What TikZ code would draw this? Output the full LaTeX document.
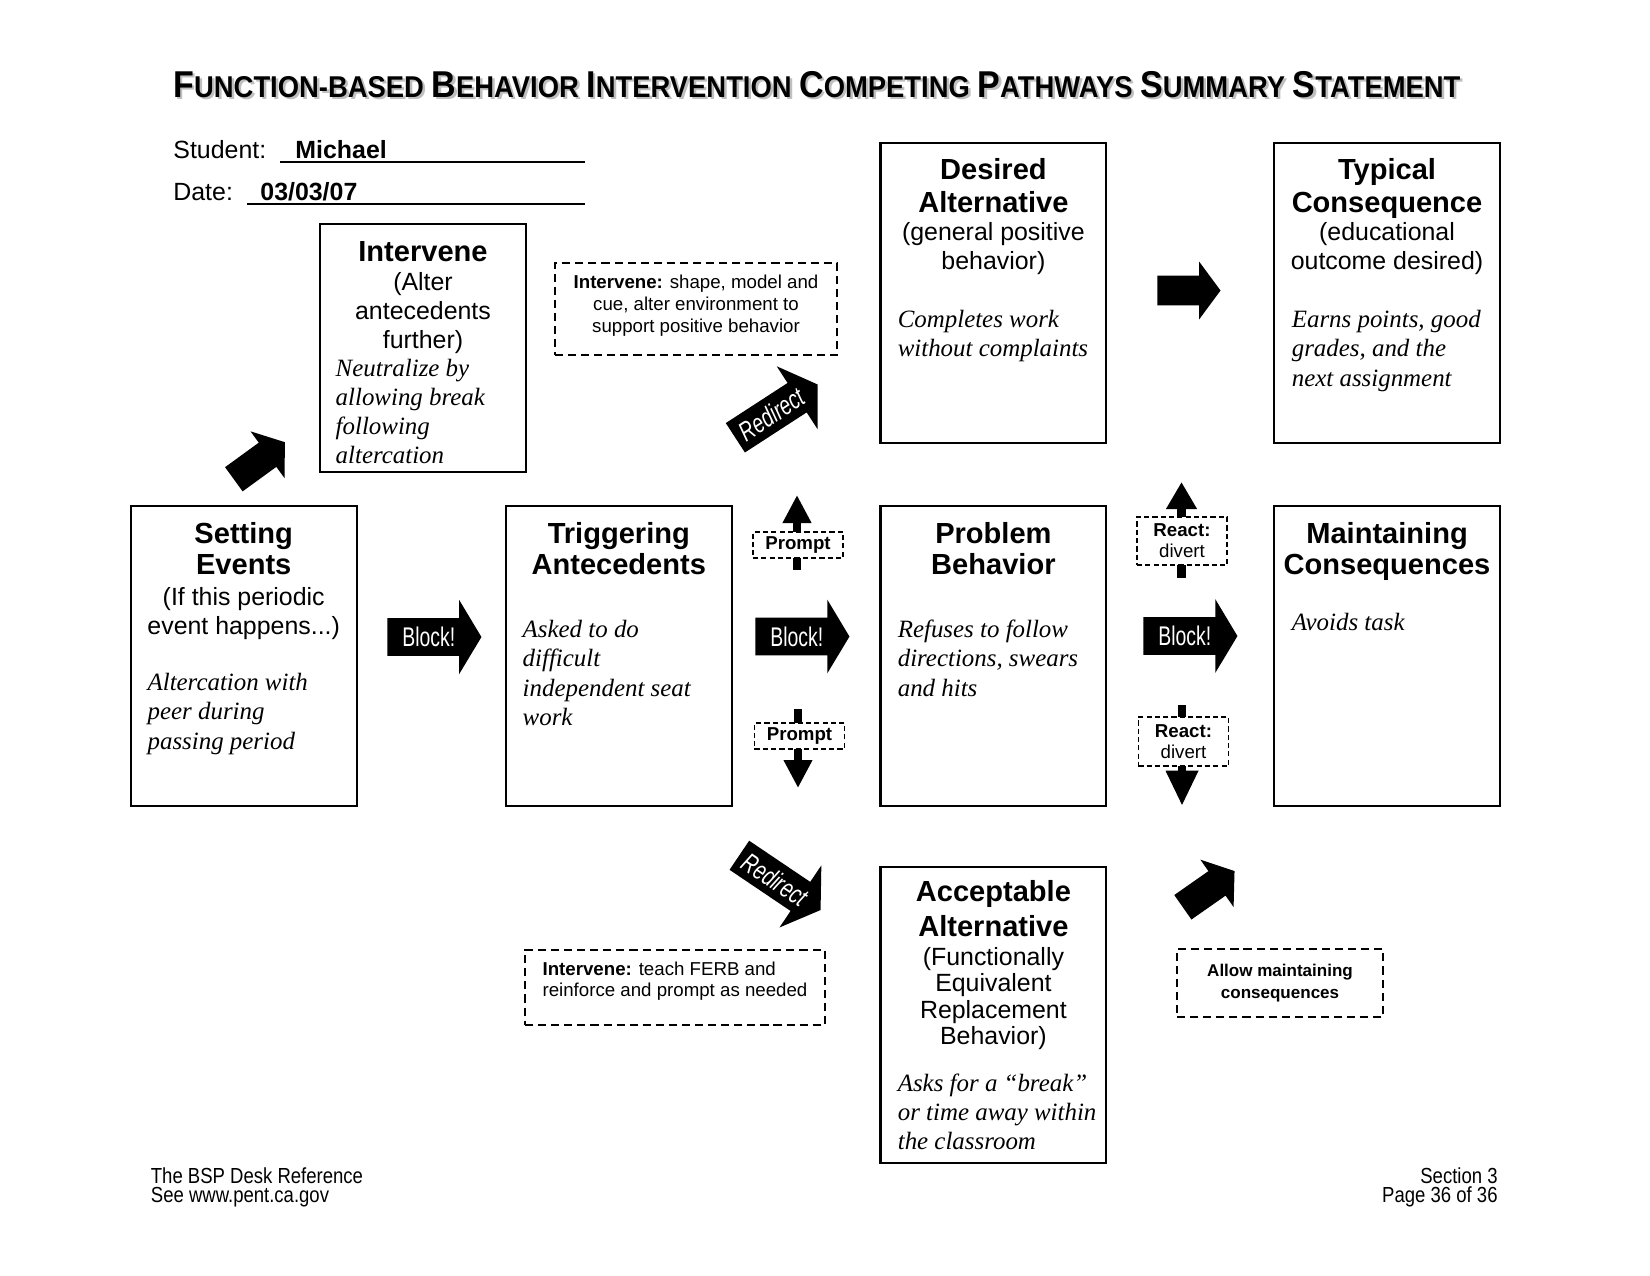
\documentclass[tikz,border=0pt]{standalone}
\usepackage{fontspec}
\setmainfont{Liberation Sans}
\newfontfamily\serifit{Liberation Serif}
\newfontfamily\narrowfont[FakeStretch=0.85]{Liberation Sans}
\newfontfamily\arrowfont[FakeStretch=0.72]{Liberation Sans}
\newfontfamily\titlefont[FakeStretch=0.91]{Liberation Sans}
\usetikzlibrary{shapes.arrows, arrows.meta}

\newcommand{\capword}[2]{{\fontsize{18}{20}\selectfont #1}{\fontsize{14.5}{20}\selectfont #2}}
\newcommand{\titletext}{\titlefont\bfseries\fontsize{14.5}{20}\selectfont
  \capword{F}{UNCTION-BASED} \capword{B}{EHAVIOR} \capword{I}{NTERVENTION}
  \capword{C}{OMPETING} \capword{P}{ATHWAYS} \capword{S}{UMMARY} \capword{S}{TATEMENT}}

\tikzset{
  box/.style={draw, line width=1pt, minimum width=108.8pt, minimum height=144.5pt, inner sep=0pt},
  headtext/.style={anchor=base, inner sep=0pt, font=\bfseries\fontsize{14}{16}\selectfont},
  subtext/.style={anchor=base, inner sep=0pt, font=\fontsize{12}{14}\selectfont},
  bodytext/.style={anchor=base west, inner sep=0pt, font=\serifit\itshape\fontsize{12}{14}\selectfont},
  plaintext/.style={anchor=base west, inner sep=0pt, font=\fontsize{12}{14}\selectfont},
  foottext/.style={inner sep=0pt, font=\narrowfont\fontsize{10.5}{12}\selectfont},
  dashbox/.style={draw, line width=1.2pt, dash pattern=on 3.9pt off 2.4pt, fill=white,
    inner sep=0pt, align=center, font=\fontsize{9}{10.5}\selectfont},
  tagbox/.style={draw, line width=0.8pt, dash pattern=on 2.5pt off 1.5pt, fill=white,
    minimum width=43.4pt, inner sep=0pt, align=center, font=\fontsize{9}{10}\selectfont},
  blockarrow/.style={single arrow, fill=black, text=white, anchor=tail,
    font=\arrowfont\fontsize{13}{13}\selectfont, text height=9.3pt, text depth=0pt,
    inner xsep=1pt, inner ysep=4.25pt, minimum height=45.3pt,
    single arrow head extend=8.7pt, single arrow tip angle=118},
  redirect/.style={blockarrow, font=\arrowfont\itshape\fontsize{13}{13}\selectfont,
    text height=9.3pt, inner ysep=3.6pt, minimum height=47.2pt,
    single arrow head extend=9.6pt, single arrow tip angle=114},
  fatarrow/.style={single arrow, fill=black, anchor=tail, text height=0pt, text depth=0pt,
    inner xsep=0pt, inner ysep=7pt, minimum height=30.4pt,
    single arrow head extend=6.75pt, single arrow tip angle=107},
  thinarrow/.style={line width=4.3pt, -{Triangle[width=13pt, length=13.5pt]}},
}

\begin{document}
\begin{tikzpicture}[x=0.4818pt, y=-0.4818pt]
  \useasboundingbox[fill=white] (0,0) rectangle (1650,1275);

  % title and header
  \node[anchor=base west, inner sep=0pt, text=gray!50] (title-shadow) at (175.5,99.5) {\titletext};
  \node[anchor=base west, inner sep=0pt] (title) at (173,97) {\titletext};
  \node[plaintext] (student) at (173,158) {Student:};
  \node[plaintext, font=\bfseries\fontsize{12}{14}\selectfont] (student-name) at (295,158) {Michael};
  \draw[line width=0.8pt] (280,162) -- (585,162);
  \node[plaintext] (date) at (173,200) {Date:};
  \node[plaintext, font=\bfseries\fontsize{12}{14}\selectfont] (date-value) at (260,200) {03/03/07};
  \draw[line width=0.8pt] (247,204) -- (585,204);

  % intervene
  \node[box, minimum width=99.4pt, minimum height=119.6pt] (intervene) at (423,348.3) {};
  \node[headtext] (intervene-h1) at (423,261.7) {Intervene};
  \foreach \t [count=\i from 0] in {{(Alter}, antecedents, {further)}}
    \node[subtext] (intervene-s\i) at (423,290.5+28.85*\i) {\t};
  \foreach \t [count=\i from 0] in {Neutralize by, allowing break, following, altercation}
    \node[bodytext] (intervene-b\i) at (335.3,376+29.15*\i) {\t};

  % setting events
  \node[box] (setting) at (243.7,656.2) {};
  \node[headtext] (setting-h1) at (243.7,543) {Setting};
  \node[headtext] (setting-h2) at (243.7,574) {Events};
  \node[subtext] (setting-s0) at (243.7,605) {(If this periodic};
  \node[subtext] (setting-s1) at (243.7,634.3) {event happens...)};
  \foreach \t [count=\i from 0] in {Altercation with, peer during, passing period}
    \node[bodytext] (setting-b\i) at (147.2,690.5+29.45*\i) {\t};

  % triggering antecedents
  \node[box] (trigger) at (618.8,656.2) {};
  \node[headtext] (trigger-h1) at (618.8,543) {Triggering};
  \node[headtext] (trigger-h2) at (618.8,574) {Antecedents};
  \foreach \t [count=\i from 0] in {Asked to do, difficult, independent seat, work}
    \node[bodytext] (trigger-b\i) at (522.3,637.7+29.15*\i) {\t};

  % problem behavior
  \node[box] (problem) at (993.4,656.2) {};
  \node[headtext] (problem-h1) at (993.4,543) {Problem};
  \node[headtext] (problem-h2) at (993.4,574) {Behavior};
  \foreach \t [count=\i from 0] in {Refuses to follow, {directions, swears}, and hits}
    \node[bodytext] (problem-b\i) at (897.4,637.7+29.15*\i) {\t};

  % maintaining consequences
  \node[box] (maintain) at (1387,656.2) {};
  \node[headtext] (maintain-h1) at (1387,543) {Maintaining};
  \node[headtext] (maintain-h2) at (1387,574) {Consequences};
  \node[bodytext] (maintain-b0) at (1291.4,630.8) {Avoids task};

  % desired alternative
  \node[box] (desired) at (993.4,293) {};
  \node[headtext] (desired-h1) at (993.4,179) {Desired};
  \node[headtext] (desired-h2) at (993.4,212) {Alternative};
  \foreach \t [count=\i from 0] in {{(general positive}, {behavior)}}
    \node[subtext] (desired-s\i) at (993.4,240.8+28.85*\i) {\t};
  \foreach \t [count=\i from 0] in {Completes work, without complaints}
    \node[bodytext] (desired-b\i) at (897.4,327.3+29.35*\i) {\t};

  % typical consequence
  \node[box] (typical) at (1387,293) {};
  \node[headtext] (typical-h1) at (1387,179) {Typical};
  \node[headtext] (typical-h2) at (1387,212) {Consequence};
  \foreach \t [count=\i from 0] in {{(educational}, {outcome desired)}}
    \node[subtext] (typical-s\i) at (1387,240.8+28.85*\i) {\t};
  \foreach \t [count=\i from 0] in {{Earns points, good}, {grades, and the}, next assignment}
    \node[bodytext] (typical-b\i) at (1291.4,327.3+29.35*\i) {\t};

  % acceptable alternative
  \node[box, minimum height=142.5pt] (accept) at (993.4,1015) {};
  \node[headtext] (accept-h1) at (993.4,901.4) {Acceptable};
  \node[headtext] (accept-h2) at (993.4,936.2) {Alternative};
  \foreach \t [count=\i from 0] in {{(Functionally}, Equivalent, Replacement, {Behavior)}}
    \node[subtext] (accept-s\i) at (993.4,965+26.5*\i) {\t};
  \foreach \t [count=\i from 0] in {Asks for a “break”, or time away within, the classroom}
    \node[bodytext] (accept-b\i) at (897.4,1091.5+28.85*\i) {\t};

  % dashed intervention boxes
  \node[dashbox, text depth=5pt, minimum width=135.9pt, minimum height=44.3pt] (shape-box) at (696,309)
    {\textbf{Intervene:} shape, model and\\cue, alter environment to\\support positive behavior};
  \node[dashbox, align=left, text depth=8pt, minimum width=144.5pt, minimum height=36.1pt] (teach-box) at (675,987.5)
    {\textbf{Intervene:} teach FERB and\\reinforce and prompt as needed};
  \node[dashbox, font=\bfseries\fontsize{8.2}{10.5}\selectfont, minimum width=99.2pt,
    minimum height=32.8pt] (allow-box) at (1280,983) {Allow maintaining\\consequences};

  % fat arrows
  \node[fatarrow, rotate=36] (setting-up) at (233.5,479.5) {};
  \node[fatarrow] (desired-right) at (1157,290.5) {};
  \node[fatarrow, rotate=35] (accept-up) at (1182.5,907.5) {};
  \node[redirect, rotate=33] (redirect-up) at (735,438) {Redirect};
  \node[redirect, rotate=-34] (redirect-down) at (739,855) {Redirect};
  \node[blockarrow] (block-1) at (387,637) {Block!};
  \node[blockarrow] (block-2) at (755,636.5) {Block!};
  \node[blockarrow] (block-3) at (1143,636) {Block!};

  % prompt and react arrows
  \coordinate (prompt-up-tail) at (797,570);
  \coordinate (prompt-up-tip) at (797,495);
  \coordinate (prompt-down-tail) at (798,709);
  \coordinate (prompt-down-tip) at (798,788);
  \coordinate (react-up-tail) at (1181.5,578);
  \coordinate (react-up-tip) at (1181.5,482);
  \coordinate (react-down-tail) at (1182,705);
  \coordinate (react-down-tip) at (1182,806);
  \draw[thinarrow] (prompt-up-tail) -- (prompt-up-tip);
  \draw[thinarrow] (prompt-down-tail) -- (prompt-down-tip);
  \draw[thinarrow, -{Triangle[width=14pt, length=13pt]}] (react-up-tail) -- (react-up-tip);
  \draw[thinarrow, -{Triangle[width=14.5pt, length=17pt]}] (react-down-tail) -- (react-down-tip);
  \node[tagbox, minimum height=12.5pt, font=\bfseries\fontsize{9}{10}\selectfont] (prompt-up) at (798,545) {Prompt};
  \node[tagbox, minimum height=12.5pt, font=\bfseries\fontsize{9}{10}\selectfont] (prompt-down) at (799.5,736) {Prompt};
  \node[tagbox, minimum height=23.1pt] (react-up) at (1182,541) {\textbf{React:}\\divert};
  \node[tagbox, minimum height=23.6pt] (react-down) at (1183.5,741.5) {\textbf{React:}\\divert};

  % footer
  \node[foottext, anchor=base west] (foot-l1) at (150.5,1183) {The BSP Desk Reference};
  \node[foottext, anchor=base west] (foot-l2) at (150.5,1202) {See www.pent.ca.gov};
  \node[foottext, anchor=base east] (foot-r1) at (1498,1183) {Section 3};
  \node[foottext, anchor=base east] (foot-r2) at (1498,1202) {Page 36 of 36};
\end{tikzpicture}
\end{document}
